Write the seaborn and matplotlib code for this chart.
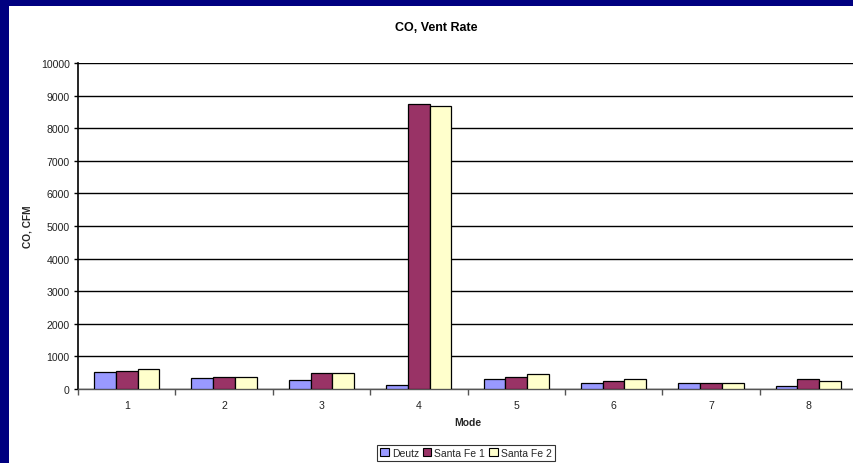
import numpy as np
import pandas as pd
import matplotlib
matplotlib.use("Agg")
import matplotlib.pyplot as plt
from matplotlib.patches import Rectangle
from matplotlib.ticker import FixedLocator, MultipleLocator
import seaborn as sns

# Data
modes = ["1", "2", "3", "4", "5", "6", "7", "8"]
series_names = ["Deutz", "Santa Fe 1", "Santa Fe 2"]
deutz = [510, 350, 270, 130, 300, 190, 190, 80]
santa_fe_1 = [560, 370, 490, 8750, 370, 240, 190, 300]
santa_fe_2 = [610, 370, 490, 8670, 460, 300, 190, 245]
y_ticks = [0, 1000, 2000, 3000, 4000, 5000, 6000, 7000, 8000, 9000, 10000]

colors = ["#9999FF", "#993366", "#FFFFCC"]

df = pd.DataFrame({
    "Mode": modes * 3,
    "Series": np.repeat(series_names, len(modes)),
    "Value": deutz + santa_fe_1 + santa_fe_2,
})

sns.set_theme(style="white")
plt.rcParams["font.family"] = ["Liberation Sans", "DejaVu Sans"]

W, H = 854, 464
fig = plt.figure(figsize=(W / 100, H / 100), dpi=100, facecolor="#000080")

# white slide panel behind the chart
panel = Rectangle((9 / W, 0), 1, 1 - 7 / H, transform=fig.transFigure,
                  facecolor="white", edgecolor="none", zorder=-10)
fig.add_artist(panel)

ax = fig.add_axes([78 / W, 74 / H, (857 - 78) / W, 326 / H])
ax.set_zorder(1)
ax.set_facecolor("white")

sns.barplot(data=df, x="Mode", y="Value", hue="Series", order=modes,
            hue_order=series_names, palette=colors, width=0.67, gap=0,
            edgecolor="black", linewidth=0.9, saturation=1, ax=ax,
            legend=False, zorder=3)

ax.set_xlim(-0.5, len(modes) - 0.5)
ax.set_ylim(0, 10000)
ax.yaxis.set_major_locator(FixedLocator(y_ticks))
ax.yaxis.grid(True, color="black", linewidth=1.0, zorder=0)
ax.set_axisbelow(True)

for s in ["top", "right"]:
    ax.spines[s].set_visible(False)
ax.spines["left"].set_color("black")
ax.spines["left"].set_linewidth(1.2)
ax.spines["bottom"].set_color("#555555")
ax.spines["bottom"].set_linewidth(1.0)

ax.tick_params(axis="y", which="major", direction="out", length=3, width=1,
               color="black", labelsize=7.6, labelcolor="#222222", pad=3, left=True)
ax.tick_params(axis="x", which="major", length=0, labelsize=7.6,
               labelcolor="#222222", pad=8)
ax.xaxis.set_minor_locator(MultipleLocator(1, offset=0.5))
ax.tick_params(axis="x", which="minor", direction="out", length=4, width=1,
               color="#555555", bottom=True)

ax.set_xlabel("Mode", fontsize=7.5, fontweight="bold", labelpad=5)
ax.set_ylabel("CO, CFM", fontsize=7.3, fontweight="bold", labelpad=6)
fig.text(436 / W, 1 - 28 / H, "CO, Vent Rate", ha="center", va="center",
         fontsize=9, fontweight="bold", color="black")

handles = [Rectangle((0, 0), 1, 1, facecolor=c, edgecolor="black", linewidth=0.8)
           for c in colors]
leg = fig.legend(handles, series_names, loc="center",
                 bbox_to_anchor=(466 / W, 1 - 454 / H), ncol=3, fontsize=7.5,
                 frameon=True, fancybox=False, edgecolor="black",
                 handlelength=0.8, handleheight=0.8, handletextpad=0.3,
                 columnspacing=0.4, borderpad=0.3, borderaxespad=0)
leg.get_frame().set_linewidth(0.8)

fig.savefig("out.png", dpi=100, facecolor=fig.get_facecolor())
